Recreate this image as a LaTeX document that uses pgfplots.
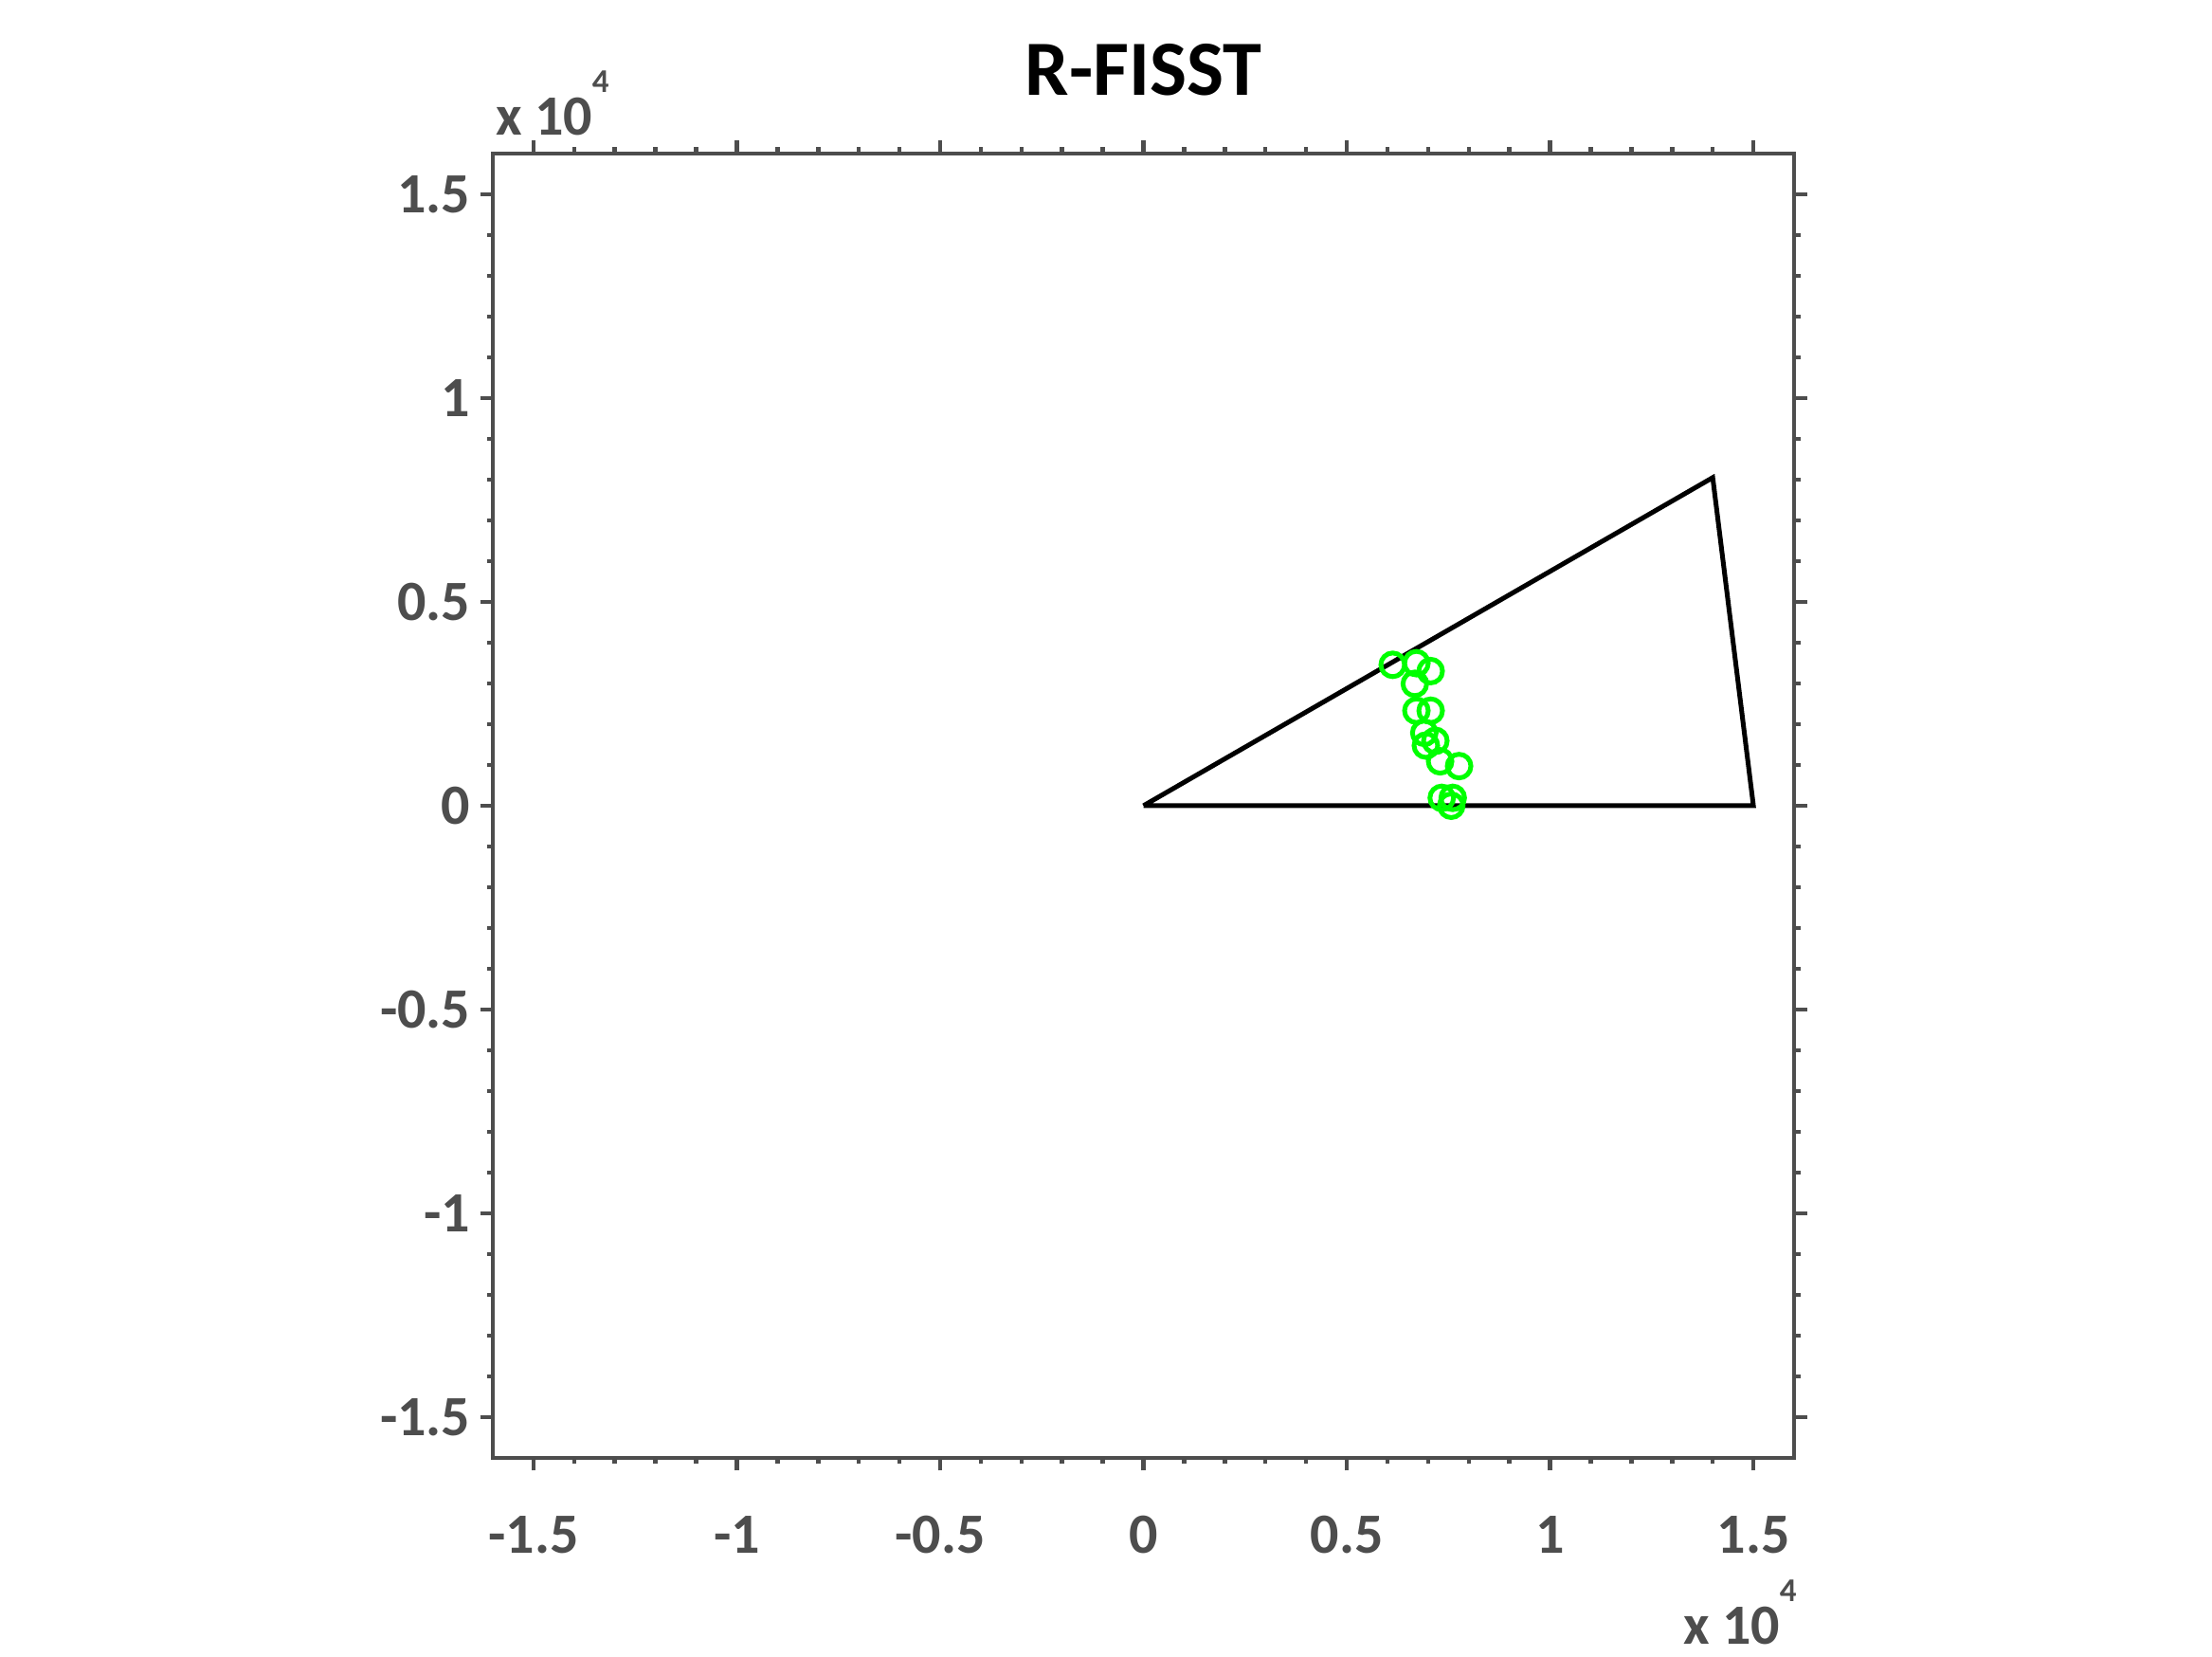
\documentclass[border=0pt]{standalone}
\usepackage{pgfplots}
\pgfplotsset{compat=1.18}
\usepackage{fontspec}
\setmainfont{Carlito}
\definecolor{axgray}{RGB}{77,77,77}
\definecolor{mgreen}{RGB}{0,255,0}
\begin{document}
\begin{tikzpicture}[x=1pt,y=1pt]
\useasboundingbox (0,0) rectangle (466.8,349.6);
\begin{axis}[
  at={(104pt,42pt)}, anchor=south west,
  scale only axis, width=274.6pt, height=275.2pt,
  xmin=-16000, xmax=16000, ymin=-16000, ymax=16000,
  scaled ticks=false,
  xtick={-15000,-10000,-5000,0,5000,10000,15000},
  xticklabels={-1.5,-1,-0.5,0,0.5,1,1.5},
  ytick={-15000,-10000,-5000,0,5000,10000,15000},
  yticklabels={-1.5,-1,-0.5,0,0.5,1,1.5},
  minor x tick num=4, minor y tick num=4,
  tick align=outside, tick pos=both,
  major tick length=2.7pt, minor tick length=1.3pt,
  axis line style={axgray, line width=0.9pt},
  every tick/.style={axgray, line width=0.9pt},
  tick label style={font=\fontsize{12}{14}\selectfont\bfseries, text=axgray},
  xticklabel style={yshift=-6pt},
  yticklabel style={xshift=1.5pt},
  clip=false,
]
\addplot[black, line width=1pt] coordinates {(0,0) (14000,8050) (15000,0) (0,0)};
\addplot[only marks, mark=o, mark size=2.5pt, mgreen, line width=1pt, mark options={solid}] coordinates {
(6130,3457) (6713,3497) (7063,3303) (6674,2991) (6713,2331) (7063,2331)
(6907,1788) (7179,1592) (6946,1476) (7296,1089) (7762,972) (7336,193)
(7606,193) (7569,0)
};
\node[anchor=base, font=\fontsize{16.5}{18}\selectfont\bfseries] at (rel axis cs:0.5,1) [yshift=12.2pt] {R-FISST};
\end{axis}
\node[anchor=base west, text=axgray, font=\fontsize{12}{14}\selectfont\bfseries, inner sep=0pt] at (104.4,321) {x 10\raisebox{9pt}{\fontsize{7}{8}\selectfont 4}};
\node[anchor=base west, text=axgray, font=\fontsize{12}{14}\selectfont\bfseries, inner sep=0pt] at (355,2.6) {x 10\raisebox{9pt}{\fontsize{7}{8}\selectfont 4}};
\end{tikzpicture}
\end{document}
